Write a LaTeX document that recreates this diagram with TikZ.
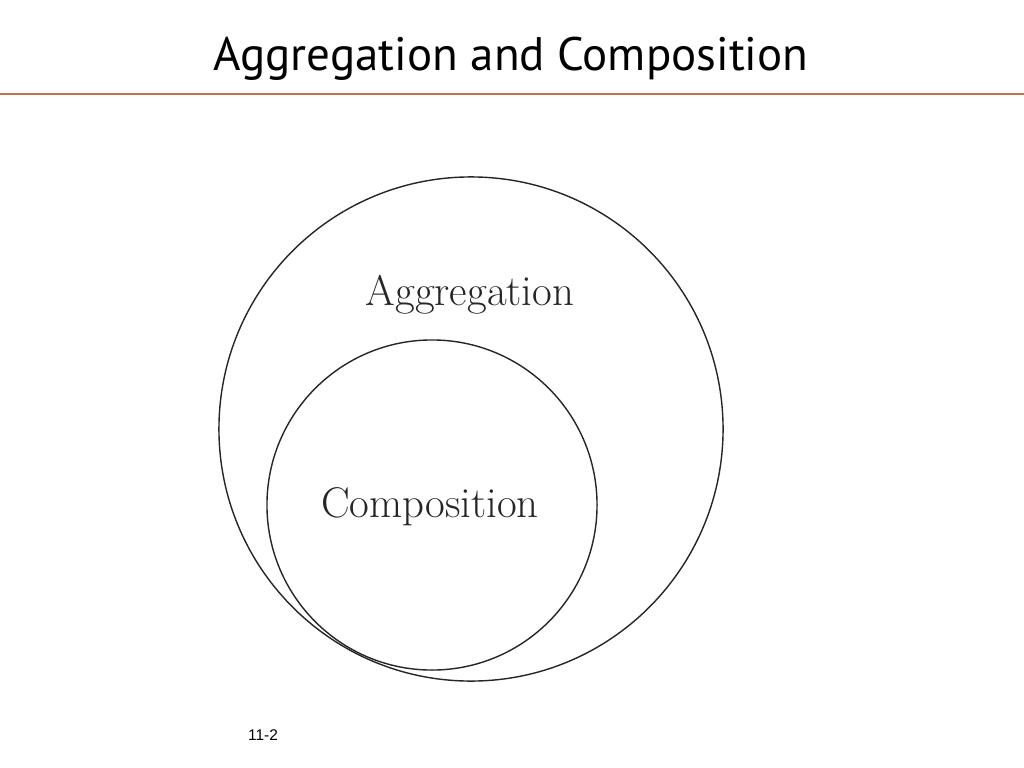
\documentclass[tikz,border=0pt]{standalone}
\usepackage{fontspec}
\usepackage{xcolor}
\newfontfamily\titlefont{PT Sans}
\newfontfamily\footfont{Liberation Sans}
\definecolor{rulebrown}{RGB}{190,116,74}
\tikzset{
	ring/.style={draw=black!85, circle, inner sep=0pt, line width=1pt},
	setlabel/.style={anchor=base, text=black!85, font=\fontsize{30.5}{32}\selectfont}
}

\begin{document}
\begin{tikzpicture}[x=0.025cm, y=-0.025cm]
	\useasboundingbox (0,0) rectangle (1024,768);
	\node[anchor=base, font=\titlefont\fontsize{33.4}{36}\selectfont] (title) at (511,71) {Aggregation and Composition};
	\coordinate (ruleL) at (0,94);
	\coordinate (ruleR) at (1024,94);
	\draw [rulebrown, line width=1.8pt] (ruleL) -- (ruleR);
	\node[ring, minimum size=12.6cm] (outer) at (471,429) {};
	\node[ring, minimum size=8.25cm] (inner) at (432,505) {};
	\node[setlabel] (agg) at (470,305) {Aggregation};
	\node[setlabel] (comp) at (430,517) {Composition};
	\node[anchor=base, font=\footfont\fontsize{11}{13}\selectfont] (page) at (263,740) {11-2};
\end{tikzpicture}
\end{document}
